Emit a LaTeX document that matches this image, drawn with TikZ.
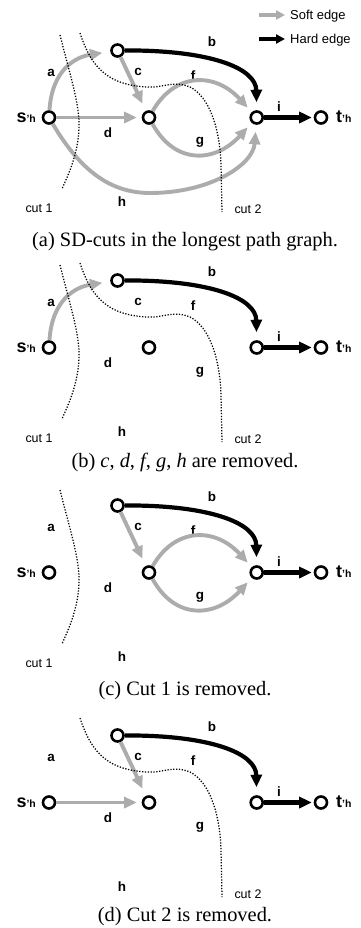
\documentclass[tikz,border=0pt]{standalone}
\usepackage{fontspec}
\setmainfont{Liberation Serif}
\setsansfont{Liberation Sans}
\usetikzlibrary{arrows.meta}
\definecolor{softgray}{RGB}{172,172,172}
\tikzset{
  vtx/.style={circle, draw=black, line width=2.6bp, fill=white, minimum size=12bp, inner sep=0pt},
  soft/.style={draw=softgray, line width=3.9bp, -{Triangle[length=12.5bp,width=11bp]}},
  hard/.style={draw=black, line width=4.2bp, -{Triangle[length=12.5bp,width=11bp]}},
  legsoft/.style={draw=softgray, line width=3.9bp, -{Triangle[length=9bp,width=9bp]}},
  leghard/.style={draw=black, line width=4.2bp, -{Triangle[length=9bp,width=9bp]}},
  cutline/.style={draw=black, line width=1.25bp, dash pattern=on 1.25bp off 1.6bp},
  elab/.style={font=\sffamily\bfseries\fontsize{13.5}{13.5}\selectfont, inner sep=0pt},
  clab/.style={font=\sffamily\fontsize{12.5}{12.5}\selectfont, inner sep=0pt},
  legtxt/.style={font=\sffamily\fontsize{13}{13}\selectfont, inner sep=0pt, anchor=west},
  captxt/.style={font=\fontsize{20.5}{20.5}\selectfont, inner sep=0pt, anchor=base},
}
\newcommand\graphnodes[1]{%
  \node[vtx] (#1s) at (49,117.5) {};
  \node[vtx] (#1T) at (117.5,50.5) {};
  \node[vtx] (#1M) at (149,117.5) {};
  \node[vtx] (#1R) at (256.7,117.5) {};
  \node[vtx] (#1t) at (321,117.5) {};
  \node[anchor=base east, inner sep=0pt] (#1sl) at (36,122) {\sffamily\bfseries\fontsize{18}{18}\selectfont s\fontsize{10.5}{10.5}\selectfont'h};
  \node[anchor=base west, inner sep=0pt] (#1tl) at (336,122) {\sffamily\bfseries\fontsize{18}{18}\selectfont t\fontsize{10.5}{10.5}\selectfont'h};
  \node[elab] (#1la) at (51,73) {a};
  \node[elab] (#1lb) at (212,42) {b};
  \node[elab] (#1lc) at (138,72) {c};
  \node[elab] (#1lf) at (193,76) {f};
  \node[elab] (#1ld) at (108,133) {d};
  \node[elab] (#1lg) at (200,142) {g};
  \node[elab] (#1lh) at (122,202) {h};
  \node[elab] (#1li) at (279,107) {i};
}
\newcommand\edgea[1]{\draw[soft, shorten >=8bp] (#1s) .. controls (52,70) and (75,57) .. (#1T);}
\newcommand\edgeb[1]{\draw[hard, shorten >=8bp] (#1T) .. controls (210,50) and (256,68) .. (#1R);}
\newcommand\edgec[1]{\draw[soft, shorten >=8bp] (#1T) -- (#1M);}
\newcommand\edged[1]{\draw[soft, shorten >=5bp] (#1s) -- (#1M);}
\newcommand\edgef[1]{\draw[soft, shorten >=6bp] (#1M) .. controls (175,72) and (215,72) .. (#1R);}
\newcommand\edgeg[1]{\draw[soft, shorten >=6bp] (#1M) .. controls (175,165) and (215,163) .. (#1R);}
\newcommand\edgeh[1]{\draw[soft, shorten >=7bp] (#1s) .. controls (80,170) and (110,193) .. (150,193) .. controls (210,193) and (253,165) .. (#1R);}
\newcommand\edgei[1]{\draw[hard, shorten >=2bp] (#1R) -- (#1t);}
\newcommand\cutone[1]{%
  \draw[cutline] (60,35) .. controls (70,75) and (80,105) .. (79,128) .. controls (78,155) and (68,175) .. (62,189);
  \node[clab] (#1cl1) at (39,208) {cut 1};}
\newcommand\cuttwo[1]{%
  \draw[cutline] (80,33) .. controls (92,70) and (110,85) .. (147,87) .. controls (165,88) and (172,80) .. (190,87) .. controls (210,97) and (220,130) .. (221,165) -- (222,212);
  \node[clab] (#1cl2) at (248,209) {cut 2};}
\begin{document}
\begin{tikzpicture}[x=1bp,y=-1bp]
\useasboundingbox (0,0) rectangle (360,928);
% legend
\coordinate (ls1) at (259,15);
\coordinate (ls2) at (285,15);
\coordinate (lh1) at (259,39);
\coordinate (lh2) at (285,39);
\draw[legsoft] (ls1) -- (ls2);
\draw[leghard] (lh1) -- (lh2);
\node[legtxt] (lsoft) at (290,16) {Soft edge};
\node[legtxt] (lhard) at (290,40) {Hard edge};
% panel (a)
\begin{scope}
  \graphnodes{A}
  \edgea{A}\edgeb{A}\edgec{A}\edged{A}\edgef{A}\edgeg{A}\edgeh{A}\edgei{A}
  \cutone{A}\cuttwo{A}
\end{scope}
\node[captxt] (capa) at (185,246) {(a) SD-cuts in the longest path graph.};
% panel (b)
\begin{scope}[shift={(0,230)}]
  \graphnodes{B}
  \edgea{B}\edgeb{B}\edgei{B}
  \cutone{B}\cuttwo{B}
\end{scope}
\node[captxt] (capb) at (185,467.5) {(b) \textit{c}, \textit{d}, \textit{f}, \textit{g}, \textit{h} are removed.};
% panel (c)
\begin{scope}[shift={(0,455)}]
  \graphnodes{C}
  \edgeb{C}\edgec{C}\edgef{C}\edgeg{C}\edgei{C}
  \cutone{C}
\end{scope}
\node[captxt] (capc) at (185,695) {(c) Cut 1 is removed.};
% panel (d)
\begin{scope}[shift={(0,685)}]
  \graphnodes{D}
  \edgeb{D}\edgec{D}\edged{D}\edgei{D}
  \cuttwo{D}
\end{scope}
\node[captxt] (capd) at (185,921) {(d) Cut 2 is removed.};
\end{tikzpicture}
\end{document}
